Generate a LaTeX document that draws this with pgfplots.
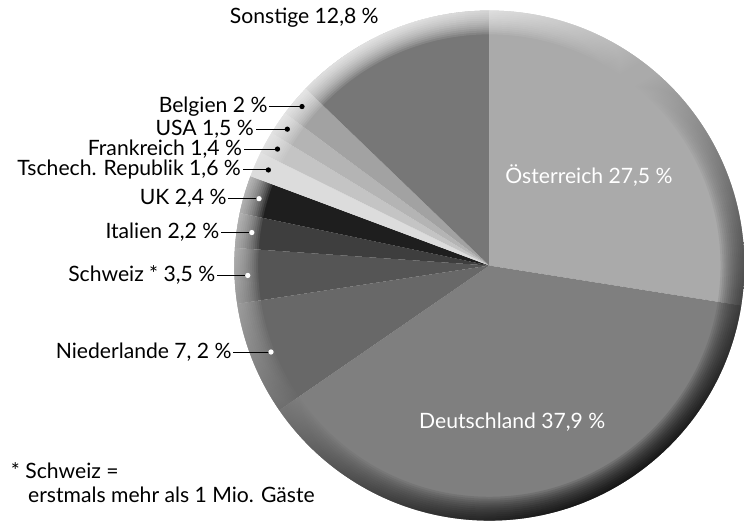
\documentclass[border=0pt]{standalone}
\usepackage{pgfplots}
\pgfplotsset{compat=1.18}
\usepackage{pgfplotstable}
\usepackage{fontspec}
\setmainfont{Lato}

% Grautöne der Segmente
\definecolor{c0}{HTML}{AAAAAA} % Österreich
\definecolor{c1}{HTML}{7F7F7F} % Deutschland
\definecolor{c2}{HTML}{686868} % Niederlande
\definecolor{c3}{HTML}{555555} % Schweiz
\definecolor{c4}{HTML}{3E3E3E} % Italien
\definecolor{c5}{HTML}{1E1E1E} % UK
\definecolor{c6}{HTML}{DCDCDC} % Tschech. Republik
\definecolor{c7}{HTML}{C4C4C4} % Frankreich
\definecolor{c8}{HTML}{B4B4B4} % USA
\definecolor{c9}{HTML}{A2A2A2} % Belgien
\definecolor{c10}{HTML}{777777} % Sonstige

\pgfplotstableread{
value
27.5
37.9
7.2
3.5
2.2
2.4
1.6
1.4
1.5
2.0
12.8
}\piedata

\def\SA#1{\csname sa#1\endcsname}
\def\EA#1{\csname ea#1\endcsname}
\def\MA#1{\csname ma#1\endcsname}
\def\R{193pt} % Radius

% #1 Segment, #2 Abstand Punkt (px), #3 Linienlaenge (px), #4 Text, #5 Punktfarbe
\newcommand\pielabel[5]{%
  \draw[line width=0.7pt] (axis cs:487,265) ++(\MA{#1}:#2*0.75pt) coordinate (d#1)
    -- ++(-#3*0.75pt,0pt) node[anchor=east, inner sep=1pt] {#4};
  \fill[#5] (d#1) circle[radius=2pt];
}

\begin{document}
\xdef\cum{90}
\pgfplotstableforeachcolumnelement{value}\of\piedata\as\v{%
  \pgfmathsetmacro\e{\cum-3.6*\v}%
  \pgfmathsetmacro\m{\cum-1.8*\v}%
  \expandafter\xdef\csname sa\pgfplotstablerow\endcsname{\cum}%
  \expandafter\xdef\csname ea\pgfplotstablerow\endcsname{\e}%
  \expandafter\xdef\csname ma\pgfplotstablerow\endcsname{\m}%
  \xdef\cum{\e}%
}
\begin{tikzpicture}
\begin{axis}[
    scale only axis, width=558pt, height=399.75pt,
    xmin=0, xmax=744, ymin=0, ymax=533,
    hide axis, clip=false,
    font=\fontsize{16}{19}\selectfont,
  ]
  \coordinate (bl) at (axis cs:0,0);
  \coordinate (tr) at (axis cs:744,533);
  \pgfplotsinvokeforeach{0,...,10}{
    \fill[c#1] (axis cs:487,265) -- ++(\SA{#1}:\R)
      arc[start angle=\SA{#1}, end angle=\EA{#1}, radius=\R] -- cycle;
  }
  % weicher Rand: hell oben links, dunkel unten rechts
  \pgfplotsinvokeforeach{1,...,12}{
    \shade[top color=white, bottom color=black, shading angle=30,
      even odd rule, fill opacity=0.12]
      (axis cs:487,265) circle[radius=\R]
      (axis cs:487,265) circle[radius=193pt-#1*1.5pt];
  }

  \pielabel{2}{237}{38}{Niederlande 7, 2 \%}{white}
  \pielabel{3}{244}{31}{Schweiz * 3,5 \%}{white}
  \pielabel{4}{242}{31}{Italien 2,2 \%}{white}
  \pielabel{5}{242}{31}{UK 2,4 \%}{white}
  \pielabel{6}{243}{26}{Tschech. Republik 1,6 \%}{black}
  \pielabel{7}{244}{34}{Frankreich 1,4 \%}{black}
  \pielabel{8}{246}{32}{USA 1,5 \%}{black}
  \pielabel{9}{248}{33}{Belgien 2 \%}{black}

  \node[anchor=west, inner sep=0pt] at (axis cs:225,515) {Sonstige 12,8 \%};
  \node[anchor=west, inner sep=0pt, text=white] at (axis cs:503,356) {Österreich 27,5 \%};
  \node[anchor=west, inner sep=0pt, text=white] at (axis cs:416,107) {Deutschland 37,9 \%};
  \node[anchor=north west, inner sep=0pt, align=left] at (axis cs:4,66)
    {* Schweiz =\\[-1pt]\hspace*{13pt}erstmals mehr als 1 Mio. Gäste};
\end{axis}
\pgfresetboundingbox
\path (bl) rectangle (tr);
\end{tikzpicture}
\end{document}
